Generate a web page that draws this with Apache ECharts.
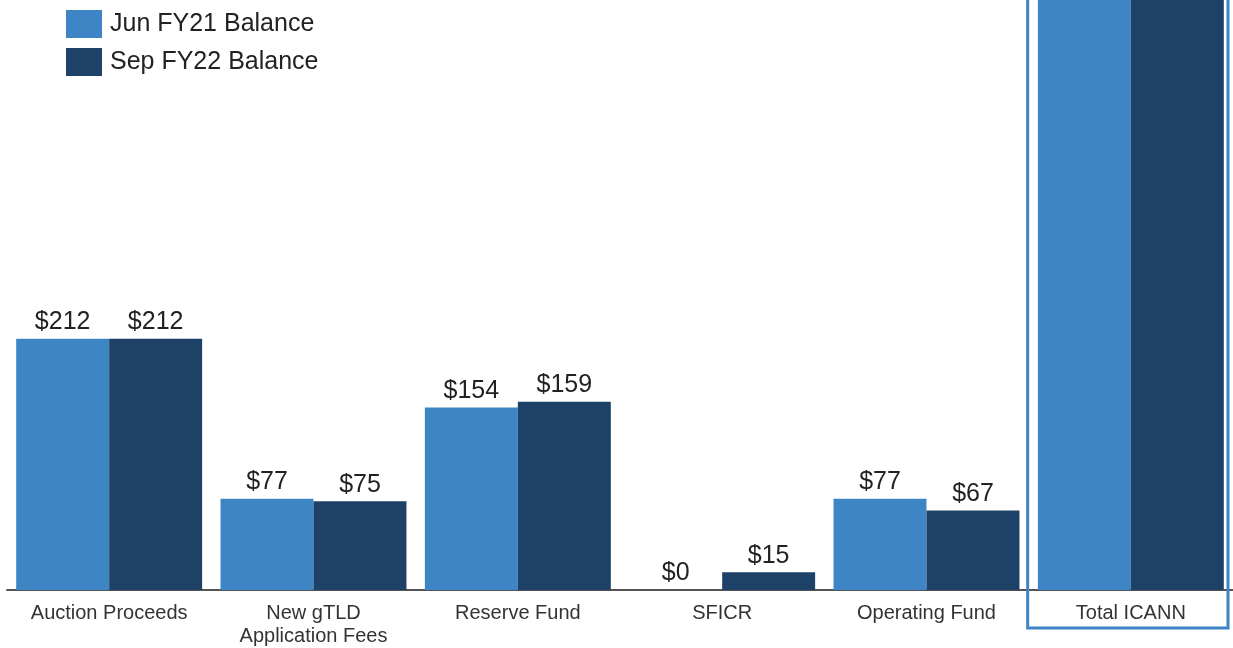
<!DOCTYPE html>
<html>
<head>
<meta charset="utf-8">
<script src="https://cdn.jsdelivr.net/npm/echarts@6/dist/echarts.min.js"></script>
<style>
  html, body { margin: 0; padding: 0; background: #fff; }
  #main { width: 1233px; height: 648px; }
</style>
</head>
<body>
<div id="main"></div>
<script>
const categories = ['Auction Proceeds', 'New gTLD\nApplication Fees', 'Reserve Fund', 'SFICR', 'Operating Fund', 'Total ICANN']
const jun21 = [212, 77, 154, 0, 77, 520]
const sep22 = [212, 75, 159, 15, 67, 528]
const seriesNames = ['Jun FY21 Balance', 'Sep FY22 Balance']

const FONT = '"Liberation Sans", Arial, Helvetica, sans-serif'

// 总计那一组柱子超出图框，不显示标签
function toData(values) {
  return values.map((v, i) => i === categories.length - 1
    ? { value: v, label: { show: false } }
    : v)
}

const valueLabel = {
  show: true,
  position: 'top',
  distance: 4,
  fontSize: 25,
  color: '#222',
  fontFamily: FONT,
  formatter: p => '$' + p.value
}

const chart = echarts.init(document.getElementById('main'))

const option = {
  animation: false,
  textStyle: { fontFamily: FONT },
  color: ['#3e85c6', '#1e4167'],
  legend: {
    left: 66,
    top: 10,
    padding: 0,
    orient: 'vertical',
    itemWidth: 36,
    itemHeight: 28,
    itemGap: 10,
    icon: 'rect',
    textStyle: { fontSize: 25, color: '#222', fontFamily: FONT, padding: [8, 0, 0, 3] },
    data: seriesNames
  },
  grid: { left: 7, right: -1, top: 0, bottom: 56 },
  xAxis: {
    type: 'category',
    data: categories,
    axisLine: { lineStyle: { color: '#555', width: 2 } },
    axisTick: { show: false },
    axisLabel: { fontSize: 20, color: '#333', lineHeight: 23, margin: 12, interval: 0, fontFamily: FONT }
  },
  yAxis: {
    type: 'value',
    min: 0,
    max: 498,
    show: false,
    splitLine: { show: false }
  },
  series: [
    {
      name: seriesNames[0],
      type: 'bar',
      data: toData(jun21),
      barGap: '0%',
      barCategoryGap: '9%',
      label: valueLabel
    },
    {
      name: seriesNames[1],
      type: 'bar',
      data: toData(sep22),
      barGap: '0%',
      barCategoryGap: '9%',
      label: valueLabel
    }
  ]
}

chart.setOption(option)

// 蓝色框标出 Total ICANN
const last = categories.length - 1
const center = chart.convertToPixel({ xAxisIndex: 0 }, last)
const prev = chart.convertToPixel({ xAxisIndex: 0 }, last - 1)
const band = center - prev
chart.setOption({
  graphic: [{
    type: 'rect',
    z: 100,
    shape: { x: center - band / 2 - 1, y: -10, width: band - 4, height: 638 },
    style: { fill: 'none', stroke: '#3e85c6', lineWidth: 3 }
  }]
})
</script>
</body>
</html>
